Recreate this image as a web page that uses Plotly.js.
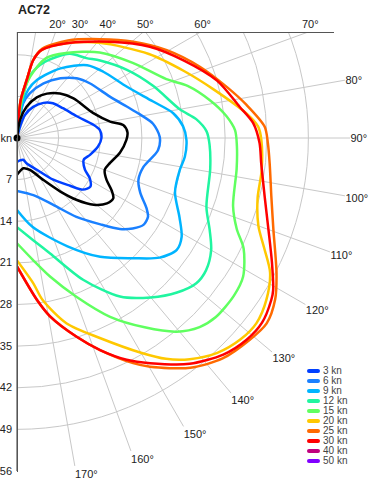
<!DOCTYPE html>
<html><head><meta charset="utf-8">
<script src="https://cdn.plot.ly/plotly-3.0.1.min.js"></script>
<style>
html,body{margin:0;padding:0;width:380px;height:497px;overflow:hidden;background:#fff;font-family:"Liberation Sans",Arial,sans-serif;}
#plot{position:absolute;left:0;top:-195px;width:380px;height:706px;}
#topmask{position:absolute;left:0;top:0;width:380px;height:32px;background:#fff;}
#frame{position:absolute;left:17px;top:32px;width:316px;height:439px;border-left:1px solid #555;border-top:1px solid #555;pointer-events:none;}
#title{position:absolute;left:18px;top:3px;font-weight:bold;font-size:12.5px;color:#222;}
.alab{position:absolute;top:17px;font-size:11px;color:#222;transform:translateX(-50%);white-space:nowrap;line-height:14px;}
.leg{position:absolute;left:307px;width:60px;height:10px;overflow:visible;}
.sw{position:absolute;left:0;top:3px;width:13px;height:4px;border-radius:2px;}
.lt{position:absolute;left:16px;top:0;display:block;height:10px;line-height:10px;font-size:10px;color:#444;white-space:nowrap;}
</style></head>
<body>
<div id="plot"></div>
<div id="topmask"><div id="title">AC72</div></div>
<div id="frame"></div>
<div id="legend"></div>
<script>
// ---- data (theta in degrees, r in knots) ----
const seriesNames  = ["3 kn","6 kn","9 kn","12 kn","15 kn","20 kn","25 kn","30 kn","40 kn","50 kn"];
const seriesColors = ["#0040ff","#1a80ff","#00b4ff","#20f5a0","#60ff60","#ffc800","#ff6a00","#ff0000","#c0007f","#8000ff"];

const thetaBlack = [0,9.5,17,26,34,44,55,72,80,83,87,91,98,105,110,115,119,122,126,131,136,141,148,158,168,180];
const rBlack     = [0,3.1,5.5,7.6,9.0,10.4,11.6,13.5,15.9,18.0,18.6,18.4,17.5,16.2,15.7,16.6,18.2,19.1,18.7,17.1,14.5,11.6,8.3,5.8,5.2,6.2];

const theta3 = [0,15,19,27.5,37,46,57,70,80,84.5,90,96,103,108,115,119,123.5,128,132,139,148,159,164,172.5,180];
const r3     = [0,2.0,4.1,5.9,7.4,8.4,9.2,10.7,13.0,14.0,14.2,13.7,12.6,11.8,12.6,14.0,14.8,14.1,12.0,9.3,6.3,4.6,3.8,3.8,4.0];

const theta6 = [0,8,10,16,26,36,45,53,66,74,79,84,89.5,95,103,109,114,118.5,121,124.5,128,131.5,136,143,151.5,164,180];
const r6     = [0,3.6,5.9,7.8,10.2,12.4,14.2,15.3,17.1,19.2,21.0,23.0,24.0,23.8,21.8,21.6,22.7,24.8,25.7,25.8,24.7,23.1,20.2,16.6,12.8,10.0,8.9];

const theta9 = [0,8,13,19,32,44,52.5,65,75,81,86,90.7,96.4,101,109,116,121,125,130,136,145,155,170,180];
const r9     = [0,4.8,8.3,10.3,13.8,17.0,18.3,20.4,23.7,26.6,28.0,28.5,28.4,27.9,28.1,30.4,32.3,32.8,31.3,28.1,24.4,20.1,15.2,12.1];

const theta12 = [0,7.5,12,20,32,41,47,58,69,80,84,88,92,99,110,115.5,120,125,129,134,140,147,155,164,171,180];
const r12     = [0,6.4,10.8,13.6,16.7,17.8,19.1,21.7,24.5,27.8,30.3,31.9,32.4,32.9,33.9,35.9,37.7,38.8,38.8,37.4,35.0,31.8,26.3,20.2,17.4,15.0];

const theta15 = [0,7,12,20,30,44,57,68.5,73,79,84,88,92,98,107.5,112.5,116,121.5,126,132,136,140.5,146,152.5,159.5,166.5,172.5,180];
const r15     = [0,6.5,10.5,14.3,16.5,20.0,23.2,27.0,30.0,33.1,35.4,36.7,37.0,37.3,38.1,40.0,42.4,44.6,45.1,45.0,44.2,42.2,38.4,33.9,28.5,24.0,20.7,17.7];

const theta20 = [0,5.6,9.5,11.8,15.7,27.6,41,57.5,68,76,83.9,87.3,90.5,97.5,104,110,114,118,123,127.7,132,137,142,146,150,157.5,165,171,173.6,180];
const r20     = [0,6.4,9.9,13.4,15.4,18.0,21.2,26.3,30.2,34.0,38.8,40.6,41.1,41.5,41.7,43.2,45.5,48.2,50.0,50.9,50.6,49.4,47.2,44.8,41.7,36.4,32.3,27.6,24.6,20.6];

const theta25 = [0,5.6,9.5,11.8,15.7,27.6,40,50.4,59.6,68.7,76.3,81.8,87.4,91.2,95.7,103,109.7,117.5,122,126.6,131,137,143,149.8,152.7,158.6,163.3,169.5,173,180];
const r25     = [0,6.4,9.9,13.4,15.6,18.5,21.7,25.4,29.2,33.0,36.3,39.0,41.7,42.2,42.7,43.9,45.8,49.2,51.2,52.3,51.8,50.7,48.4,44.5,42.6,38.3,34.9,30.5,27.4,21.6];

const theta30 = [0,5.6,9.5,11.8,15.7,27.6,44,55.5,65,74,82,86.4,91.2,96,103.3,110,116,120.7,122.5,127,131.3,136.4,142.6,149.4,153.7,158.6,163.3,169.5,173,180];
const r30     = [0,6.4,9.9,13.4,15.4,18.0,22.5,27.1,30.9,35.0,37.8,39.8,40.8,41.3,42.8,45.0,47.7,50.1,50.7,51.6,51.4,50.3,47.8,44.0,41.6,38.3,34.9,30.5,27.4,21.6];

const theta40 = [], r40 = [];
const theta50 = [], r50 = [];

const radialTicks = [0,7,14,21,28,35,42,49,56];
const radialTickText = ["kn","7","14","21","28","35","42","49","56"];
const angleTicks = [0,10,20,30,40,50,60,70,80,90,100,110,120,130,140,150,160,170,180];
const topAngleLabels = [20,30,40,50,60,70];
// ----------------------------------------------

const seriesTheta = [theta3,theta6,theta9,theta12,theta15,theta20,theta25,theta30,theta40,theta50];
const seriesR     = [r3,r6,r9,r12,r15,r20,r25,r30,r40,r50];

const traces = [];
for (let i = 0; i < seriesNames.length; i++) {
  if (!seriesR[i].length) continue;
  traces.push({type:'scatterpolar', mode:'lines', name:seriesNames[i],
    r:seriesR[i], theta:seriesTheta[i],
    line:{color:seriesColors[i], width:2.5, shape:'spline', smoothing:0.8}});
}
traces.push({type:'scatterpolar', mode:'lines', name:'', showlegend:false,
  r:rBlack, theta:thetaBlack, line:{color:'#000', width:2.5, shape:'spline', smoothing:0.8}});
traces.push({type:'scatterpolar', mode:'markers', showlegend:false, cliponaxis:false,
  r:[0], theta:[0], marker:{color:'#000', size:7}});

const angleText = angleTicks.map(a => (a >= 80 && a <= 170) ? a + '°' : '');

const layout = {
  width:380, height:706,
  margin:{l:17, r:30, t:0, b:40, pad:0},
  paper_bgcolor:'#fff',
  showlegend:false,
  font:{family:'"Liberation Sans", Arial, sans-serif', size:11, color:'#222'},
  polar:{
    domain:{x:[0,1], y:[0,1]},
    sector:[-90,90],
    bgcolor:'#fff',
    angularaxis:{rotation:90, direction:'clockwise', tickmode:'array',
      tickvals:angleTicks, ticktext:angleText, ticks:'',
      showline:false, gridcolor:'#c8c8c8', gridwidth:1,
      tickfont:{size:11, color:'#222'}},
    radialaxis:{range:[0,56], angle:-90, tickmode:'array',
      tickvals:radialTicks, ticktext:radialTickText, ticks:'', tickangle:-90,
      side:'clockwise', showline:true, linecolor:'#555', linewidth:1,
      gridcolor:'#c8c8c8', gridwidth:1, tickfont:{size:11, color:'#222'}}
  }
};

Plotly.newPlot('plot', traces, layout, {staticPlot:true, displayModeBar:false});

// angle labels along the top edge
const mask = document.getElementById('topmask');
topAngleLabels.forEach(a => {
  const s = document.createElement('span');
  s.className = 'alab';
  s.textContent = a + '°';
  s.style.left = (17 + 106 * Math.tan(a * Math.PI / 180) + 2) + 'px';
  mask.appendChild(s);
});

// legend
const leg = document.getElementById('legend');
seriesNames.forEach((n, i) => {
  const d = document.createElement('div');
  d.className = 'leg';
  d.style.top = (366 + 10 * i) + 'px';
  d.innerHTML = '<span class="sw" style="background:' + seriesColors[i] + '"></span><span class="lt">' + n + '</span>';
  leg.appendChild(d);
});
</script>
</body></html>
